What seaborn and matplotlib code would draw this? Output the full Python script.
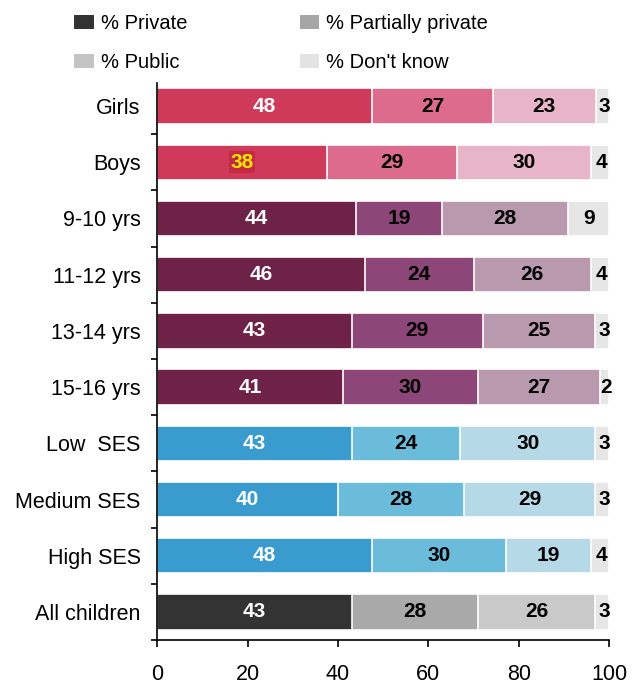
import numpy as np
import pandas as pd
import seaborn as sns
import matplotlib.pyplot as plt
from matplotlib.patches import Patch

# --- datos ---
categories = ["Girls", "Boys", "9-10 yrs", "11-12 yrs", "13-14 yrs", "15-16 yrs",
              "Low  SES", "Medium SES", "High SES", "All children"]
private = [48, 38, 44, 46, 43, 41, 43, 40, 48, 43]
partially = [27, 29, 19, 24, 29, 30, 24, 28, 30, 28]
public = [23, 30, 28, 26, 25, 27, 30, 29, 19, 26]
dont_know = [3, 4, 9, 4, 3, 2, 3, 3, 4, 3]
legend_labels = ["% Private", "% Partially private", "% Public", "% Don't know"]

# colores por grupo: (private, partially, public)
group_colors = {
    "gender": ["#CF3A5A", "#DC6B8E", "#E8B4C7"],
    "age": ["#6E2248", "#8C4677", "#B899AD"],
    "ses": ["#3A9BCF", "#6BBBDB", "#B5D9E7"],
    "all": ["#333333", "#A9A9A9", "#C9C9C9"],
}
group_of = ["gender"] * 2 + ["age"] * 4 + ["ses"] * 3 + ["all"]
dk_color = "#E6E6E6"

layers = np.array([private, partially, public, dont_know], dtype=float)
totals = layers.sum(axis=0)
widths = layers / totals * 100
cum = np.cumsum(widths, axis=0)

layer_palettes = []
for k in range(3):
    layer_palettes.append({c: group_colors[g][k] for c, g in zip(categories, group_of)})
layer_palettes.append({c: dk_color for c in categories})

plt.rcParams['font.family'] = ['Liberation Sans', 'DejaVu Sans']
fig = plt.figure(figsize=(6.32, 6.89), dpi=100)
ax = fig.add_axes([0.249, 0.071, 0.7146, 0.8085])

# barras apiladas: se dibuja de la suma total hacia atrás
for k in range(3, -1, -1):
    df = pd.DataFrame({"cat": categories, "val": cum[k]})
    sns.barplot(data=df, x="val", y="cat", hue="cat", palette=layer_palettes[k],
                legend=False, orient="h", width=0.63, edgecolor="white",
                linewidth=1.2, saturation=1, ax=ax)

# etiquetas
for i, cat in enumerate(categories):
    for k in range(4):
        start = cum[k, i] - widths[k, i]
        center = start + widths[k, i] / 2
        val = int(layers[k, i])
        color = "white" if k == 0 else "black"
        if k == 3 and val < 5:
            center = cum[k, i] - widths[k, i] / 2 + 0.4
        kw = {}
        if cat == "Boys" and k == 0:
            color = "#FFE600"
            kw["bbox"] = dict(facecolor="#C32B42", edgecolor="none", pad=1.0)
        ax.text(center, i, str(val), ha="center", va="center", color=color,
                fontsize=15, fontweight="bold", clip_on=False, **kw)

ax.set_xlim(0, 100)
ax.set_ylim(9.5, -0.41)
ax.set_xticks([0, 20, 40, 60, 80, 100])
ax.set_xlabel("")
ax.set_ylabel("")
ax.tick_params(axis="y", which="major", length=0, labelsize=15.5, pad=12)
ax.tick_params(axis="x", labelsize=15.5, length=5, width=1.2, pad=12)
ax.set_yticks(np.arange(0.5, 9.6, 1), minor=True)
ax.tick_params(axis="y", which="minor", length=4, width=1.2)
for s in ["top", "right"]:
    ax.spines[s].set_visible(False)
ax.spines["left"].set_linewidth(1.2)
ax.spines["bottom"].set_linewidth(1.2)

handles = [Patch(facecolor="#333333", label=legend_labels[0]),
           Patch(facecolor="#C4C4C4", label=legend_labels[2]),
           Patch(facecolor="#A6A6A6", label=legend_labels[1]),
           Patch(facecolor="#E3E3E3", label=legend_labels[3])]
fig.legend(handles=handles, loc="upper left", bbox_to_anchor=(0.089, 1.006), ncol=2,
           frameon=False, fontsize=14.5, handlelength=0.95, handleheight=0.7,
           handletextpad=0.35, labelspacing=1.0, columnspacing=5.6)

fig.savefig("out.png", dpi=100)
